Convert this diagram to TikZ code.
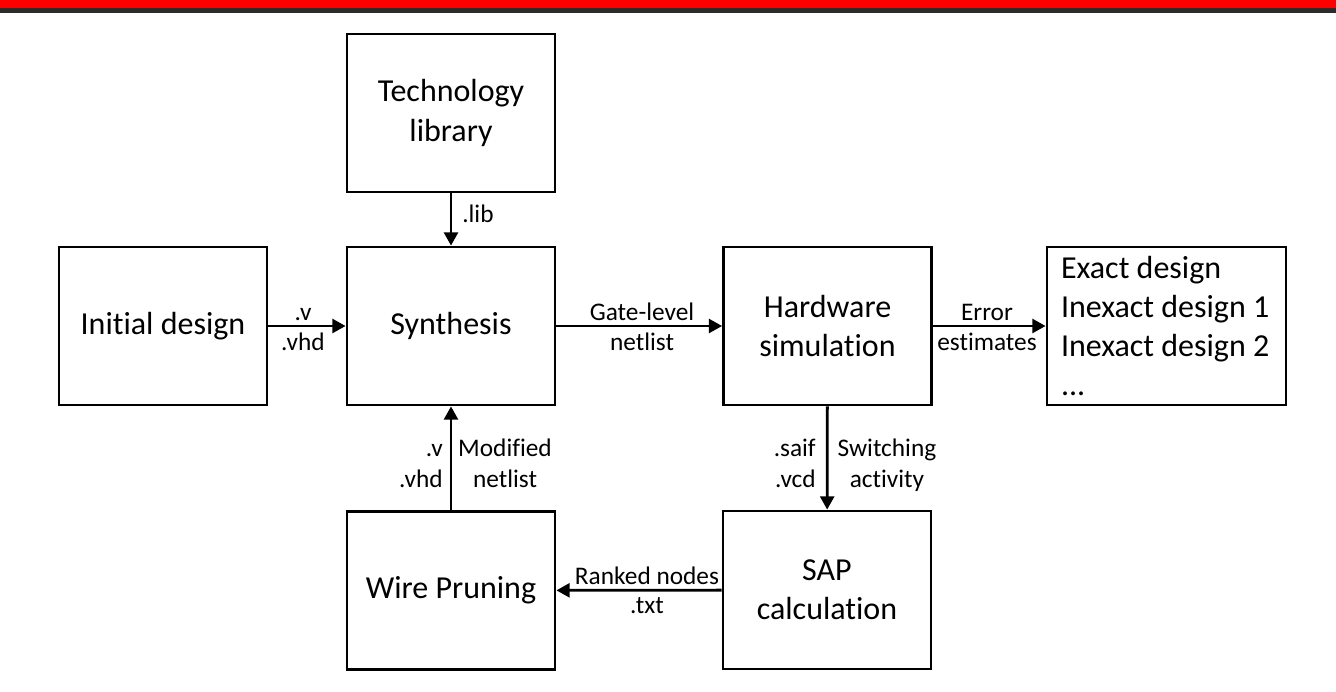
\documentclass[tikz,border=0pt]{standalone}
\usepackage{fontspec}
\setmainfont{Carlito}[Ligatures=NoCommon]
\usetikzlibrary{arrows.meta}
\definecolor{bargray}{HTML}{2B2B2B}
\newcommand{\mainsz}{\fontsize{24}{29.3}\selectfont}
\newcommand{\labsz}{\fontsize{19}{22}\selectfont}
\tikzset{
  box/.style={draw, line width=2.1pt, minimum width=156pt, minimum height=118.5pt,
    align=center, font=\mainsz, inner sep=0pt},
  arr/.style={line width=2.1pt, -{Triangle[length=10pt,width=10.5pt]}},
  lab/.style={font=\labsz, anchor=base, inner sep=0pt}
}
\begin{document}
\begin{tikzpicture}[x=0.75pt,y=-0.75pt]
\useasboundingbox (0,0) rectangle (1336,692);
\fill[red] (0,0) rectangle (1336,8);
\fill[bargray] (0,8) rectangle (1336,13);

\node[box] (tech) at (451,113) {Technology\\library};
\node[box] (init) at (163,326) {Initial design};
\node[box] (synth) at (451,326) {Synthesis};
\node[box] (hs) at (827.5,326) {Hardware\\simulation};
\node[box, minimum width=179.25pt, text width=158.25pt, inner xsep=10.5pt, align=flush left] (res) at (1166.5,326)
  {Exact design\\Inexact design 1\\Inexact design 2\\...};
\node[box] (wp) at (451,590.5) {Wire Pruning};
\node[box] (sap) at (827,590) {SAP\\calculation};

\draw[arr] (tech) -- (synth);
\draw[arr] (init) -- (synth);
\draw[arr] (synth) -- (hs);
\draw[arr] (hs) -- (res);
\draw[arr] (hs) -- (sap);
\draw[arr] (sap) -- (wp);
\draw[arr] (wp) -- (synth);

\node[lab] (l1) at (303,320) {.v};
\node[lab] (l2) at (303,350) {.vhd};
\node[lab] (l3) at (642,320) {Gate-level};
\node[lab] (l4) at (642,350) {netlist};
\node[lab] (l5) at (987,320) {Error};
\node[lab] (l6) at (987,350) {estimates};
\node[lab, anchor=base west] (l7) at (462,222) {.lib};
\node[lab, anchor=base east] (l8) at (443,456) {.v};
\node[lab, anchor=base east] (l9) at (443,487) {.vhd};
\node[lab] (l10) at (505,456) {Modified};
\node[lab] (l11) at (505,487) {netlist};
\node[lab, anchor=base east] (l12) at (816,456) {.saif};
\node[lab, anchor=base east] (l13) at (816,487) {.vcd};
\node[lab] (l14) at (887,456) {Switching};
\node[lab] (l15) at (887,487) {activity};
\node[lab] (l16) at (647,584) {Ranked nodes};
\node[lab] (l17) at (647,613) {.txt};
\end{tikzpicture}
\end{document}
